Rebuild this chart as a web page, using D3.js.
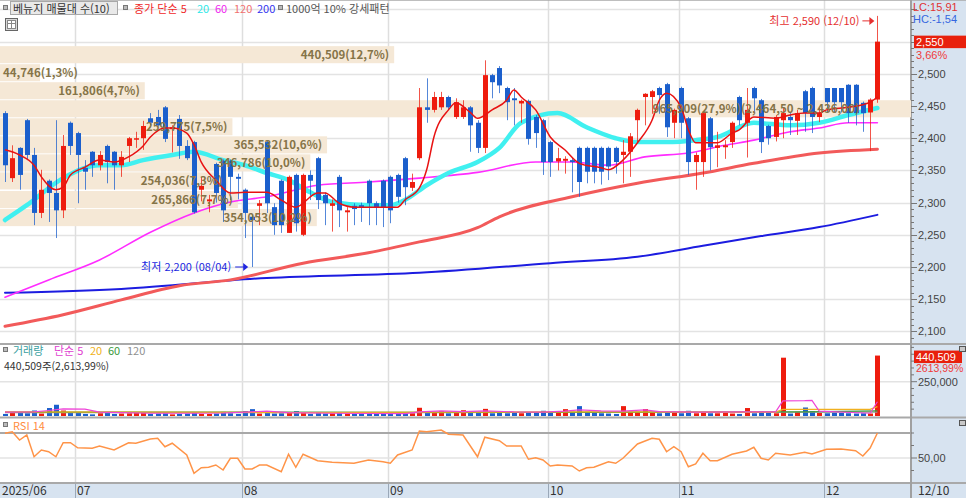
<!DOCTYPE html>
<html lang="ko">

<head>
    <meta charset="UTF-8">
    <title>매물대 차트</title>
    <script src="https://d3js.org/d3.v7.min.js"></script>
    <style>
        body {
            margin: 0;
            background: #fff;
        }

        svg {
            display: block;
            font-family: "Noto Sans CJK KR", "Noto Sans", sans-serif;
        }

        .side {
            font-family: "Liberation Sans", Arial, sans-serif;
            font-size: 11px;
        }
    </style>
</head>

<body>
    <svg id="chart" width="966" height="498"></svg>

    <script>
        // daily candles, 2025/06 .. 12/10 (index 0..120)
        const opens = [
            2439, 2338, 2385, 2428, 2374, 2284, 2334, 2315, 2288, 2424,
            2408, 2354, 2379, 2358, 2388, 2379, 2358, 2388, 2398, 2400,
            2431, 2433, 2448, 2414, 2430, 2388, 2394, 2320, 2302, 2360,
            2365, 2365, 2340, 2320, 2278, 2295, 2394, 2293, 2334, 2253,
            2343, 2250, 2343, 2369, 2312, 2295, 2340, 2285, 2295, 2296,
            2334, 2299, 2334, 2340, 2343, 2369, 2323, 2369, 2448, 2444,
            2448, 2464, 2433, 2433, 2448, 2424, 2385, 2498, 2509, 2478,
            2462, 2454, 2458, 2433, 2428, 2394, 2364, 2365, 2366, 2385,
            2385, 2385, 2385, 2385, 2385, 2374, 2379, 2428, 2464, 2464,
            2478, 2484, 2424, 2478, 2431, 2363, 2363, 2431, 2385, 2386,
            2394, 2464, 2424, 2478, 2459, 2419, 2402, 2428, 2433, 2427,
            2473, 2478, 2433, 2478, 2478, 2478, 2483, 2483, 2455, 2440,
            2460
        ];
        const highs = [
            2442, 2389, 2386, 2430, 2385, 2351, 2336, 2428, 2405, 2426,
            2410, 2366, 2380, 2380, 2390, 2380, 2380, 2402, 2410, 2427,
            2439, 2444, 2450, 2420, 2436, 2397, 2396, 2340, 2312, 2362,
            2367, 2367, 2345, 2322, 2282, 2304, 2397, 2299, 2336, 2342,
            2345, 2345, 2350, 2371, 2316, 2305, 2343, 2293, 2299, 2300,
            2336, 2302, 2336, 2342, 2345, 2371, 2345, 2478, 2493, 2472,
            2472, 2466, 2462, 2459, 2450, 2428, 2521, 2500, 2512, 2480,
            2478, 2460, 2460, 2436, 2430, 2396, 2385, 2372, 2370, 2387,
            2387, 2387, 2387, 2387, 2387, 2397, 2408, 2446, 2470, 2475,
            2480, 2486, 2446, 2480, 2433, 2378, 2441, 2433, 2410, 2397,
            2426, 2466, 2478, 2480, 2461, 2421, 2436, 2447, 2439, 2444,
            2475, 2480, 2447, 2478, 2478, 2478, 2484, 2484, 2457, 2462,
            2590
        ];
        const lows = [
            2332, 2332, 2320, 2366, 2265, 2276, 2270, 2245, 2276, 2374,
            2299, 2320, 2340, 2350, 2330, 2320, 2340, 2363, 2385, 2382,
            2420, 2418, 2394, 2378, 2368, 2366, 2283, 2302, 2285, 2300,
            2270, 2304, 2305, 2245, 2200, 2265, 2284, 2250, 2253, 2253,
            2255, 2248, 2304, 2290, 2265, 2255, 2262, 2255, 2265, 2270,
            2265, 2265, 2262, 2268, 2300, 2296, 2318, 2366, 2424, 2440,
            2444, 2444, 2430, 2430, 2379, 2377, 2377, 2462, 2470, 2428,
            2420, 2424, 2390, 2385, 2343, 2340, 2350, 2345, 2316, 2309,
            2330, 2330, 2328, 2335, 2345, 2330, 2340, 2393, 2420, 2438,
            2438, 2402, 2400, 2400, 2343, 2320, 2340, 2350, 2355, 2368,
            2385, 2420, 2370, 2440, 2377, 2390, 2395, 2400, 2405, 2405,
            2410, 2408, 2425, 2440, 2440, 2440, 2424, 2420, 2410, 2380,
            2455
        ];
        const closes = [
            2358, 2369, 2343, 2374, 2284, 2320, 2315, 2288, 2388, 2388,
            2374, 2348, 2358, 2374, 2363, 2358, 2371, 2400, 2400, 2419,
            2424, 2420, 2399, 2417, 2388, 2369, 2285, 2326, 2305, 2315,
            2288, 2340, 2337, 2284, 2273, 2299, 2299, 2265, 2265, 2340,
            2268, 2343, 2334, 2304, 2299, 2299, 2288, 2288, 2290, 2292,
            2299, 2293, 2293, 2288, 2309, 2324, 2332, 2448, 2444, 2464,
            2464, 2448, 2456, 2448, 2420, 2385, 2498, 2487, 2482, 2456,
            2459, 2458, 2399, 2408, 2363, 2363, 2369, 2368, 2363, 2332,
            2348, 2348, 2348, 2356, 2363, 2379, 2403, 2444, 2469, 2473,
            2467, 2417, 2444, 2424, 2363, 2374, 2439, 2386, 2389, 2389,
            2424, 2428, 2444, 2462, 2394, 2400, 2433, 2439, 2428, 2439,
            2439, 2433, 2439, 2456, 2456, 2456, 2439, 2439, 2439, 2460,
            2550
        ];
        const volumes = [
            15000, 25000, 22000, 20000, 40000, 18000, 58000, 82000, 40000, 25000,
            25000, 15000, 12000, 20000, 25000, 15000, 18000, 20000, 28000, 22000,
            15000, 18000, 20000, 12000, 15000, 18000, 28000, 15000, 15000, 18000,
            30000, 20000, 15000, 36000, 50000, 18000, 30000, 18000, 20000, 25000,
            35000, 28000, 15000, 22000, 18000, 20000, 25000, 18000, 15000, 15000,
            20000, 15000, 18000, 20000, 15000, 18000, 20000, 60000, 22000, 30000,
            36000, 20000, 25000, 42000, 22000, 25000, 52000, 20000, 25000, 20000,
            22000, 20000, 25000, 22000, 38000, 25000, 22000, 50000, 30000, 72000,
            30000, 25000, 20000, 18000, 15000, 72000, 30000, 30000, 50000, 30000,
            20000, 25000, 30000, 20000, 38000, 20000, 25000, 20000, 20000, 22000,
            18000, 15000, 58000, 20000, 36000, 25000, 20000, 425000, 18000, 30000,
            62000, 35000, 22000, 20000, 25000, 22000, 20000, 18000, 20000, 18000,
            440509
        ];

        // moving averages as [day index, value]
        const ma5 = [
            [0, 2382], [2, 2374], [4, 2358], [5, 2340], [7, 2320], [8, 2324], [9, 2343], [11, 2355],
            [13, 2366], [15, 2363], [17, 2371], [19, 2388], [20, 2402], [22, 2416], [23, 2416],
            [25, 2408], [26, 2390], [27, 2363], [29, 2335], [31, 2315], [33, 2316], [36, 2316],
            [38, 2304], [40, 2293], [43, 2315], [44, 2315], [46, 2299], [48, 2293], [50, 2293],
            [54, 2293], [55, 2304], [57, 2323], [58, 2351], [59, 2402], [61, 2444], [62, 2455],
            [64, 2440], [65, 2431], [67, 2444], [69, 2459], [70, 2475], [71, 2464], [73, 2444],
            [75, 2402], [77, 2382], [79, 2361], [82, 2354], [83, 2351], [85, 2366], [87, 2393],
            [89, 2428], [90, 2459], [91, 2470], [93, 2448], [94, 2413], [95, 2393], [98, 2393],
            [100, 2408], [101, 2413], [103, 2433], [106, 2431], [108, 2436], [110, 2439],
            [112, 2439], [113, 2444], [116, 2448], [118, 2452], [119, 2456], [120, 2464]
        ];
        const ma20 = [
            [0, 2273], [3, 2296], [8, 2338], [13, 2358], [16, 2358], [19, 2366], [23, 2374],
            [26, 2379], [30, 2366], [33, 2358], [36, 2346], [39, 2335], [42, 2316], [45, 2301],
            [50, 2296], [53, 2296], [55, 2304], [58, 2327], [61, 2346], [65, 2363], [68, 2385],
            [71, 2424], [76, 2439], [80, 2417], [84, 2400], [87, 2394], [91, 2394], [95, 2397],
            [98, 2402], [103, 2424], [108, 2420], [112, 2424], [116, 2436], [120, 2447]
        ];
        const ma60 = [
            [0, 2153], [6, 2180], [13, 2211], [20, 2254], [26, 2284], [31, 2301], [36, 2309],
            [43, 2327], [50, 2332], [57, 2338], [65, 2347], [73, 2363], [78, 2363], [83, 2358],
            [88, 2371], [94, 2377], [99, 2389], [103, 2397], [108, 2410], [112, 2416],
            [116, 2424], [120, 2424]
        ];
        const ma120 = [
            [0, 2108], [8, 2126], [16, 2149], [24, 2171], [31, 2180], [41, 2206], [50, 2222],
            [57, 2239], [65, 2261], [68, 2278], [78, 2309], [87, 2330], [96, 2346], [103, 2361],
            [112, 2377], [120, 2383]
        ];
        const ma200 = [
            [0, 2160], [16, 2166], [36, 2183], [57, 2191], [75, 2206], [87, 2216], [96, 2233],
            [104, 2248], [112, 2262], [120, 2281]
        ];

        const volMa5 = [
            [0, 28000], [4, 30000], [6, 40000], [8, 52000], [11, 50000], [13, 28000], [20, 20000],
            [26, 20000], [30, 22000], [33, 28000], [36, 35000], [39, 25000], [45, 20000], [55, 18000],
            [57, 30000], [60, 38000], [63, 32000], [66, 38000], [70, 30000], [74, 28000], [77, 35000],
            [79, 45000], [82, 38000], [85, 35000], [88, 45000], [90, 32000], [95, 28000], [102, 30000],
            [106, 30000], [107, 110000], [110, 112000], [111, 114000], [112, 35000], [119, 20000],
            [120, 104000]
        ];
        const volMa20 = [
            [0, 30000], [20, 28000], [40, 25000], [60, 28000], [80, 30000], [100, 28000], [106, 28000],
            [107, 48000], [119, 48000], [120, 68000]
        ];
        const volMa60 = [[0, 28000], [30, 28000], [60, 26000], [90, 28000], [110, 30000], [120, 38000]];
        const volMa120 = [[0, 24000], [60, 25000], [120, 28000]];

        const rsi = [
            [0, 69.8], [1, 71], [2, 64.4], [3, 68.4], [4, 51], [5, 56.4], [6, 55], [7, 51], [8, 62.2],
            [9, 62.2], [10, 58.2], [12, 57.8], [13, 59.6], [15, 56.4], [17, 62.2], [18, 61.8], [20, 65.2],
            [21, 65.8], [22, 59], [23, 61.8], [25, 52.4], [26, 37.8], [27, 42.2], [28, 42.6], [29, 44.4],
            [30, 40.4], [31, 49.8], [32, 49.8], [33, 41.2], [34, 41.2], [35, 44.4], [36, 44.4], [38, 39],
            [39, 53], [40, 42.6], [41, 53], [43, 47.8], [45, 46.6], [48, 45.8], [50, 48.4], [52, 47],
            [53, 45.8], [54, 52.4], [56, 56.4], [57, 71.6], [58, 71], [60, 72.4], [61, 69], [63, 68.4],
            [65, 51], [66, 66.6], [68, 63.8], [69, 59.6], [71, 59.6], [72, 49], [73, 50.2], [74, 48.4],
            [75, 43.6], [76, 44.4], [78, 43.6], [79, 39.6], [80, 42.2], [81, 42.6], [83, 47], [84, 45.8],
            [85, 49.8], [87, 61.2], [89, 65.8], [90, 65], [91, 55], [92, 59], [93, 55], [94, 43],
            [95, 45.2], [96, 53.8], [97, 47.8], [98, 47.8], [100, 53], [102, 55.6], [103, 58.6],
            [104, 49.8], [105, 48.4], [106, 53.8], [108, 52.4], [110, 54.6], [111, 53.2], [113, 57],
            [115, 57.2], [117, 55.8], [118, 51.6], [119, 58], [120, 70]
        ];

        // price-volume bands (매물대), top to bottom
        const bandHighs = [2543, 2515, 2487, 2459, 2431, 2403, 2375, 2347, 2318, 2290];
        const bandLows = [2516.5, 2488.5, 2460.5, 2432.5, 2404.5, 2376.5, 2348.5, 2320.5, 2291.5, 2263.5];
        const bandVolumes = [440509, 44746, 161806, 965909, 259775, 365532, 346786, 254036, 265866, 354053];
        const bandShares = [12.7, 1.3, 4.7, 27.9, 7.5, 10.6, 10.0, 7.3, 7.7, 10.2];
        const peakRangeLabel = "(2,464,50 ~ 2,436,00)";

        const monthStarts = [0, 10, 33, 53, 75, 93, 113];
        const monthLabels = ["2025/06", "07", "08", "09", "10", "11", "12"];

        const highIdx = 120, lowIdx = 34;

        // --------------------------------------------------------------
        const svg = d3.select("#chart");
        const plotRight = 911;
        const upColor = "#ee1c0e";
        const downColor = "#1b5fcc";
        const axisBg = "#d7e3f0";
        const comma = v => v.toFixed(2).replace(".", ",");

        const x = d3.scaleLinear().domain([0, closes.length - 1]).range([5, 877.4]);
        const y = d3.scaleLinear().domain([2082, 2610]).range([343, 3]);
        const yVol = d3.scaleLinear().domain([0, 250000]).range([416, 381.7]);
        const yRsi = d3.scaleLinear().domain([30, 70]).range([483, 433]);
        const bandW = d3.scaleLinear().domain([0, 1017000]).range([0, plotRight - 1]);

        const candles = closes.map((c, i) => ({ i, o: opens[i], h: highs[i], l: lows[i], c, v: volumes[i] }));
        const colorOf = d => (d.c >= d.o ? upColor : downColor);

        // backgrounds
        svg.append("rect").attr("width", 966).attr("height", 498).attr("fill", "#fff");
        svg.append("rect").attr("x", plotRight).attr("y", 0).attr("width", 966 - plotRight).attr("height", 498).attr("fill", axisBg);
        svg.append("rect").attr("x", 0).attr("y", 484).attr("width", 966).attr("height", 14).attr("fill", axisBg);

        svg.append("clipPath").attr("id", "mainClip")
            .append("rect").attr("x", 0).attr("y", 0).attr("width", plotRight).attr("height", 343);

        // horizontal grid (price)
        const priceTicks = d3.range(2100, 2601, 50);
        svg.append("g").selectAll("line")
            .data(priceTicks)
            .join("line")
            .attr("x1", 0).attr("x2", plotRight)
            .attr("y1", d => Math.round(y(d)) + 0.5).attr("y2", d => Math.round(y(d)) + 0.5)
            .attr("stroke", "#e3e3e3").attr("stroke-width", 1.5);

        // vertical month grid
        const gridX = i => Math.round(x(i) - 2.5) + 0.5;
        svg.append("g").selectAll("line")
            .data(monthStarts.slice(1))
            .join("line")
            .attr("x1", gridX).attr("x2", gridX)
            .attr("y1", 0).attr("y2", 484)
            .attr("stroke", "#dedede").attr("stroke-width", 1.5);
        svg.append("g").selectAll("line")
            .data(monthStarts.slice(1))
            .join("line")
            .attr("x1", gridX).attr("x2", gridX)
            .attr("y1", 484).attr("y2", 498)
            .attr("stroke", "#9aa8b8");

        // volume / rsi guide lines
        svg.append("line").attr("x1", 0).attr("x2", plotRight).attr("y1", yVol(250000)).attr("y2", yVol(250000))
            .attr("stroke", "#e3e3e3").attr("stroke-width", 1.5);
        svg.append("line").attr("x1", 0).attr("x2", plotRight).attr("y1", yRsi(50)).attr("y2", yRsi(50))
            .attr("stroke", "#e3e3e3").attr("stroke-width", 1.5);
        svg.append("line").attr("x1", 0).attr("x2", plotRight).attr("y1", yRsi(70)).attr("y2", yRsi(70))
            .attr("stroke", "#a8a8a8").attr("stroke-width", 2);

        // panel separators
        [[0, 1.5], [344, 2], [417.5, 2], [483, 2]].forEach(([yy, w]) => {
            svg.append("line").attr("x1", 0).attr("x2", 966).attr("y1", yy).attr("y2", yy)
                .attr("stroke", "#a9a9a9").attr("stroke-width", w);
        });
        svg.append("line").attr("x1", plotRight).attr("x2", plotRight).attr("y1", 0).attr("y2", 498)
            .attr("stroke", "#a0a0a0").attr("stroke-width", 2);

        // price-volume bands
        const main = svg.append("g").attr("clip-path", "url(#mainClip)");
        const peak = d3.max(bandVolumes);
        const bands = bandVolumes.map((v, k) => ({ v, k, hi: bandHighs[k], lo: bandLows[k], pct: bandShares[k] }));

        main.selectAll("rect.band")
            .data(bands)
            .join("rect")
            .attr("class", "band")
            .attr("x", 0)
            .attr("y", d => y(d.hi))
            .attr("width", d => (d.v === peak ? plotRight : bandW(d.v)))
            .attr("height", d => y(d.lo) - y(d.hi))
            .attr("fill", "#f5e8d6");

        // long moving averages under the candles
        const line = d3.line().x(d => x(d[0])).y(d => y(d[1])).curve(d3.curveMonotoneX);
        const maStyles = [
            { data: ma200, color: "#1c1ce0", w: 2 },
            { data: ma120, color: "#f25a5a", w: 3 },
            { data: ma60, color: "#ff2cff", w: 1.6 },
            { data: ma20, color: "#40f0f0", w: 4.5 }
        ];
        maStyles.forEach(s => {
            main.append("path").datum(s.data).attr("d", line)
                .attr("fill", "none").attr("stroke", s.color).attr("stroke-width", s.w)
                .attr("stroke-linejoin", "round").attr("stroke-linecap", "round");
        });

        // candles
        const cg = main.selectAll("g.candle")
            .data(candles)
            .join("g")
            .attr("class", "candle");
        cg.append("line")
            .attr("x1", d => Math.round(x(d.i)) + 0.5)
            .attr("x2", d => Math.round(x(d.i)) + 0.5)
            .attr("y1", d => y(d.h))
            .attr("y2", d => y(d.l))
            .attr("stroke", colorOf)
            .attr("stroke-opacity", 0.75);
        cg.append("rect")
            .attr("x", d => Math.round(x(d.i)) - 2)
            .attr("y", d => y(Math.max(d.o, d.c)))
            .attr("width", 5)
            .attr("height", d => Math.max(1.5, Math.abs(y(d.o) - y(d.c))))
            .attr("fill", colorOf);

        main.append("path").datum(ma5).attr("d", line)
            .attr("fill", "none").attr("stroke", "#e81212").attr("stroke-width", 1.5);

        // band labels
        const fmt = d3.format(",");
        main.selectAll("text.band")
            .data(bands)
            .join("text")
            .attr("class", "band")
            .attr("x", d => bandW(d.v) - 5)
            .attr("y", d => (y(d.hi) + y(d.lo)) / 2 + 4)
            .attr("text-anchor", "end")
            .attr("font-size", "11.5px")
            .attr("font-weight", "bold")
            .attr("fill", "#857448")
            .text(d => `${fmt(d.v)}(${d.pct.toFixed(1).replace(".", ",")}%)` + (d.v === peak ? peakRangeLabel : ""))
            .each(function () {
                const bb = this.getBBox();
                if (bb.x < 3) d3.select(this).attr("x", 3).attr("text-anchor", "start");
            });

        // high / low markers
        const hx = x(highIdx), hy = y(highs[highIdx]) + 5;
        svg.append("text").attr("x", hx - 18).attr("y", hy + 4).attr("text-anchor", "end")
            .attr("font-size", "11px").attr("fill", "#e53030")
            .text(`최고 ${fmt(highs[highIdx])} (12/10)`);
        svg.append("line").attr("x1", hx - 15).attr("x2", hx - 6).attr("y1", hy).attr("y2", hy).attr("stroke", "#e53030");
        svg.append("path").attr("d", `M${hx - 3},${hy} l-5,-4 v8 z`).attr("fill", "#e53030");

        const lx = x(lowIdx), ly = y(lows[lowIdx]);
        svg.append("text").attr("x", lx - 21).attr("y", ly + 4).attr("text-anchor", "end")
            .attr("font-size", "11px").attr("fill", "#2026e0")
            .text(`최저 ${fmt(lows[lowIdx])} (08/04)`);
        svg.append("line").attr("x1", lx - 17).attr("x2", lx - 8).attr("y1", ly).attr("y2", ly).attr("stroke", "#2026e0");
        svg.append("path").attr("d", `M${lx - 4},${ly} l-5,-4 v8 z`).attr("fill", "#2026e0");

        // volume bars
        svg.append("g").selectAll("rect")
            .data(candles)
            .join("rect")
            .attr("x", d => Math.round(x(d.i)) - 2)
            .attr("y", d => yVol(d.v))
            .attr("width", 5)
            .attr("height", d => yVol(0) - yVol(d.v))
            .attr("fill", colorOf);

        const vline = d3.line().x(d => x(d[0])).y(d => yVol(d[1]));
        [[volMa120, "#9a9a9a"], [volMa60, "#3c9a3c"], [volMa20, "#f0b020"], [volMa5, "#ee44d8"]].forEach(([data, color]) => {
            svg.append("path").datum(data).attr("d", vline)
                .attr("fill", "none").attr("stroke", color).attr("stroke-width", 1.2);
        });

        // RSI
        const rline = d3.line().x(d => x(d[0])).y(d => yRsi(d[1]));
        svg.append("path").datum(rsi).attr("d", rline)
            .attr("fill", "none").attr("stroke", "#ff9448").attr("stroke-width", 1.5);

        // right price axis
        const axis = svg.append("g");
        axis.selectAll("line")
            .data(d3.range(2090, 2601, 10))
            .join("line")
            .attr("x1", plotRight).attr("x2", d => plotRight + (d % 50 === 0 ? 6 : 3))
            .attr("y1", d => Math.round(y(d)) + 0.5).attr("y2", d => Math.round(y(d)) + 0.5)
            .attr("stroke", "#777");
        axis.selectAll("text")
            .data(priceTicks.filter(d => d <= 2500))
            .join("text")
            .attr("class", "side")
            .attr("x", plotRight + 7)
            .attr("y", d => y(d) + 4)
            .attr("fill", "#444")
            .text(d => fmt(d));

        // last price box
        const last = candles[candles.length - 1];
        const prev = candles[candles.length - 2];
        svg.append("rect").attr("x", plotRight + 3).attr("y", y(last.c) - 6).attr("width", 52).attr("height", 12.5).attr("fill", "#e8200c");
        svg.append("text").attr("class", "side").attr("x", plotRight + 5).attr("y", y(last.c) + 4).attr("fill", "#fff").text(fmt(last.c));
        svg.append("text").attr("class", "side").attr("x", plotRight + 5).attr("y", y(last.c) + 17).attr("fill", "#f03a3a")
            .text(comma((last.c / prev.c - 1) * 100) + "%");

        svg.append("text").attr("class", "side").attr("x", plotRight + 2).attr("y", 10.5).attr("fill", "#e03232").text("LC:15,91");
        svg.append("text").attr("class", "side").attr("x", plotRight + 2).attr("y", 22.5).attr("fill", "#3466e0").text("HC:-1,54");

        // volume axis
        svg.append("g").selectAll("line")
            .data(d3.range(50000, 500001, 50000))
            .join("line")
            .attr("x1", plotRight).attr("x2", d => plotRight + (d === 250000 ? 6 : 3))
            .attr("y1", d => yVol(d)).attr("y2", d => yVol(d))
            .attr("stroke", "#777");
        svg.append("text").attr("class", "side").attr("x", plotRight + 7).attr("y", yVol(250000) + 4).attr("fill", "#444").text("250,000");
        svg.append("rect").attr("x", plotRight + 3).attr("y", yVol(last.v) - 5).attr("width", 48).attr("height", 12.5).attr("fill", "#e8200c");
        svg.append("text").attr("class", "side").attr("x", plotRight + 5).attr("y", yVol(last.v) + 5).attr("fill", "#fff").text(fmt(last.v));
        svg.append("text").attr("class", "side").attr("x", plotRight + 5).attr("y", yVol(last.v) + 16.5)
            .style("font-size", "10.5px").attr("fill", "#f03a3a").text("2613,99%");

        // rsi axis
        svg.append("g").selectAll("line")
            .data([40, 50, 60, 70])
            .join("line")
            .attr("x1", plotRight).attr("x2", d => plotRight + (d === 50 ? 6 : 3))
            .attr("y1", d => yRsi(d)).attr("y2", d => yRsi(d))
            .attr("stroke", "#777");
        svg.append("text").attr("class", "side").attr("x", plotRight + 7).attr("y", yRsi(50) + 4).attr("fill", "#444").text(comma(50));

        // small panel icons
        [346, 420].forEach(yy => {
            svg.append("rect").attr("x", 959.5).attr("y", yy + 0.5).attr("width", 6).attr("height", 5)
                .attr("fill", "#c8c8c8").attr("stroke", "#555");
        });

        // month labels
        svg.append("g").selectAll("text")
            .data(monthStarts)
            .join("text")
            .attr("x", (d, k) => (k === 0 ? 2 : gridX(d) + 1.5))
            .attr("y", 495)
            .attr("font-size", "12px")
            .attr("fill", "#333")
            .text((d, k) => monthLabels[k]);
        svg.append("text").attr("x", plotRight + 7).attr("y", 495).attr("font-size", "12px").attr("fill", "#333").text("12/10");

        // legends
        const marker = (mx, my) => svg.append("rect").attr("x", mx + 0.5).attr("y", my + 0.5).attr("width", 4).attr("height", 4)
            .attr("fill", "#bbb").attr("stroke", "#777");
        marker(3, 5);
        svg.append("rect").attr("x", 10.5).attr("y", 1.5).attr("width", 107).attr("height", 13).attr("fill", "#e9e9e9").attr("stroke", "#a8a8a8");
        svg.append("text").attr("x", 13).attr("y", 12.5).attr("font-size", "11px").attr("fill", "#333").text("베뉴지 매물대 수(10)");
        marker(123, 5);
        const legend = [
            ["종가 단순 5", "#f02828", 134], ["20", "#2ee8e8", 197], ["60", "#f024f0", 215],
            ["120", "#f07070", 234], ["200", "#3434f0", 257]
        ];
        legend.forEach(([t, c, lx0]) => {
            svg.append("text").attr("x", lx0).attr("y", 12.5).attr("font-size", "11px").attr("fill", c).text(t);
        });
        marker(278, 5);
        svg.append("text").attr("x", 286).attr("y", 12.5).attr("font-size", "11px").attr("fill", "#555").text("1000억 10% 강세패턴");

        // table icon
        const icon = svg.append("g").attr("transform", "translate(5.5,18.5)");
        icon.append("rect").attr("width", 12).attr("height", 12).attr("fill", "#d8d8d8").attr("stroke", "#666");
        icon.append("rect").attr("x", 2).attr("y", 2).attr("width", 8).attr("height", 8).attr("fill", "#fff").attr("stroke", "#888");
        icon.append("line").attr("x1", 6).attr("x2", 6).attr("y1", 2).attr("y2", 10).attr("stroke", "#888");
        icon.append("line").attr("x1", 2).attr("x2", 10).attr("y1", 5).attr("y2", 5).attr("stroke", "#888");

        marker(3, 347);
        const vlegend = [["거래량", "#3aa0a0", 13], ["단순 5", "#e040d0", 54], ["20", "#f0b020", 90], ["60", "#3c9a3c", 108], ["120", "#909090", 127]];
        vlegend.forEach(([t, c, lx0]) => {
            svg.append("text").attr("x", lx0).attr("y", 354.5).attr("font-size", "11px").attr("fill", c).text(t);
        });
        svg.append("text").attr("x", 4).attr("y", 369.5).attr("font-size", "10.5px").attr("fill", "#333")
            .text(`${fmt(last.v)}주(2,613,99%)`);

        marker(3, 422);
        svg.append("text").attr("x", 13).attr("y", 429.5).attr("font-size", "11px").attr("fill", "#ff8c40").text("RSI 14");
    </script>
</body>

</html>
